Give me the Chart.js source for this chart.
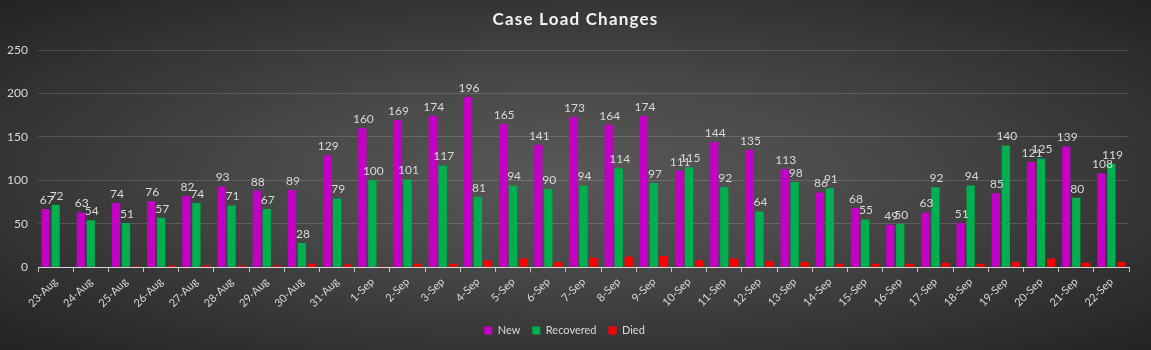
<!DOCTYPE html>
<html>
<head>
<meta charset="utf-8">
<script src="https://cdn.jsdelivr.net/npm/chart.js@4/dist/chart.umd.min.js"></script>
<style>
  html, body { margin: 0; padding: 0; }
  body {
    width: 1151px; height: 350px; overflow: hidden;
    background: radial-gradient(ellipse farthest-corner at 50% 50%, #585858 0%, #4a4a4a 35%, #232323 100%);
  }
  #wrap { position: relative; width: 1151px; height: 350px; }
</style>
</head>
<body>
<div id="wrap"><canvas id="c" width="1151" height="350"></canvas></div>
<script>
const categories = ["23-Aug","24-Aug","25-Aug","26-Aug","27-Aug","28-Aug","29-Aug","30-Aug","31-Aug",
  "1-Sep","2-Sep","3-Sep","4-Sep","5-Sep","6-Sep","7-Sep","8-Sep","9-Sep","10-Sep",
  "11-Sep","12-Sep","13-Sep","14-Sep","15-Sep","16-Sep","17-Sep","18-Sep","19-Sep","20-Sep",
  "21-Sep","22-Sep"];
const newCases = [67,63,74,76,82,93,88,89,129,160,169,174,196,165,141,173,164,174,111,144,135,113,86,68,49,63,51,85,121,139,108];
const recovered = [72,54,51,57,74,71,67,28,79,100,101,117,81,94,90,94,114,97,115,92,64,98,91,55,50,92,94,140,125,80,119];
const died = [0,0,1,2,2,2,2,4,3,1,4,4,8,10,6,11,12,13,8,10,7,6,4,4,4,5,4,6,10,5,6];
const yTicks = [0,50,100,150,200,250];
const chartTitle = "Case Load Changes";

const labelPlugin = {
  id: 'valueLabels',
  afterDatasetsDraw(chart) {
    const ctx = chart.ctx;
    ctx.save();
    ctx.font = '12px Lato, "Open Sans", sans-serif';
    ctx.fillStyle = '#d9d9d9';
    ctx.textAlign = 'center';
    ctx.textBaseline = 'bottom';
    [0, 1].forEach(di => {
      const meta = chart.getDatasetMeta(di);
      const data = chart.data.datasets[di].data;
      meta.data.forEach((bar, i) => {
        ctx.fillText(String(data[i]), bar.x + 1, bar.y - 3);
      });
    });
    ctx.restore();
  }
};

const titlePlugin = {
  id: 'customTitle',
  afterDraw(chart) {
    const ctx = chart.ctx;
    ctx.save();
    ctx.font = 'bold 17px Lato, "Open Sans", sans-serif';
    try { ctx.letterSpacing = '1.2px'; } catch (e) {}
    ctx.fillStyle = '#f2f2f2';
    ctx.textAlign = 'center';
    ctx.textBaseline = 'middle';
    ctx.fillText(chartTitle, chart.width / 2, 20);
    ctx.restore();
  }
};

new Chart(document.getElementById('c'), {
  type: 'bar',
  data: {
    labels: categories,
    datasets: [
      { label: 'New', data: newCases, backgroundColor: '#c400c4' },
      { label: 'Recovered', data: recovered, backgroundColor: '#00b050' },
      { label: 'Died', data: died, backgroundColor: '#ff0000' }
    ]
  },
  options: {
    responsive: false,
    animation: false,
    layout: { padding: { top: 50, right: 22, left: 0, bottom: 4 } },
    datasets: { bar: { categoryPercentage: 0.85, barPercentage: 0.83 } },
    plugins: {
      title: { display: false },
      tooltip: { enabled: false },
      legend: {
        position: 'bottom',
        labels: {
          boxWidth: 8, boxHeight: 8, padding: 12,
          color: '#d9d9d9',
          font: { size: 11, family: 'Lato, "Open Sans", sans-serif' }
        }
      }
    },
    scales: {
      x: {
        grid: { display: true, offset: true, drawOnChartArea: false, drawTicks: true, tickLength: 5, color: '#bfbfbf' },
        border: { display: true, color: '#d9d9d9', width: 1 },
        ticks: {
          color: '#d9d9d9', minRotation: 45, maxRotation: 45, autoSkip: false, padding: 3,
          font: { size: 11, family: 'Lato, "Open Sans", sans-serif' }
        }
      },
      y: {
        min: 0, max: 250,
        afterBuildTicks(axis) { axis.ticks = yTicks.map(v => ({ value: v })); },
        afterFit(axis) { axis.width = 38; },
        grid: { color: 'rgba(255,255,255,0.15)', drawTicks: false },
        border: { display: false },
        ticks: {
          color: '#d9d9d9', padding: 10,
          font: { size: 12, family: 'Lato, "Open Sans", sans-serif' }
        }
      }
    }
  },
  plugins: [labelPlugin, titlePlugin]
});
</script>
</body>
</html>
